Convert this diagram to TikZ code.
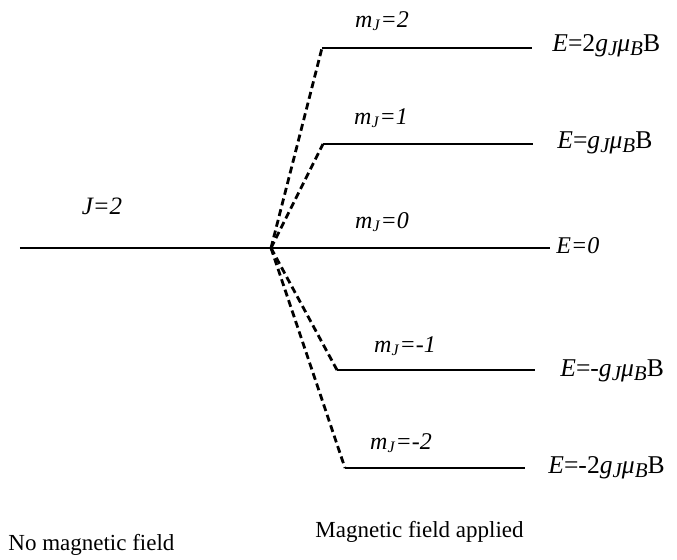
\documentclass[tikz,border=0pt]{standalone}
\usepackage{fontspec}
\setmainfont{Liberation Serif}
\newcommand{\sbs}[1]{\textsubscript{\itshape #1}}
\newcommand{\esb}[1]{\raisebox{-0.35ex}{\fontsize{10.5}{12}\selectfont\itshape #1}}
\begin{document}
\begin{tikzpicture}[x=0.5pt, y=-0.5pt,
  level/.style={line width=1.1pt},
  split/.style={line width=1.4pt, dash pattern=on 3.5pt off 2pt},
  lbl/.style={font=\fontsize{12}{14}\selectfont\itshape, inner sep=0pt},
  enr/.style={font=\fontsize{12.8}{14}\selectfont, inner sep=0pt, anchor=west},
  caption/.style={font=\fontsize{11.5}{13}\selectfont, inner sep=0pt, anchor=west}]
\useasboundingbox (0,0) rectangle (677,559);
% levels
\coordinate (j0) at (20,248);
\coordinate (j) at (271,248);
\coordinate (p2s) at (322,48);  \coordinate (p2e) at (532,48);
\coordinate (p1s) at (323,144); \coordinate (p1e) at (533,144);
\coordinate (z0e) at (550,248);
\coordinate (n1s) at (337,370); \coordinate (n1e) at (535,370);
\coordinate (n2s) at (345,468); \coordinate (n2e) at (525,468);
\draw[level] (j0) -- (j) -- (z0e);
\draw[level] (p2s) -- (p2e);
\draw[level] (p1s) -- (p1e);
\draw[level] (n1s) -- (n1e);
\draw[level] (n2s) -- (n2e);
\draw[split] (j) -- (p2s);
\draw[split] (j) -- (p1s);
\draw[split] (j) -- (n1s);
\draw[split] (j) -- (n2s);
% labels
\node[lbl, font=\fontsize{12.5}{14}\selectfont\itshape] (lj) at (102,206) {J=2};
\node[lbl] (lp2) at (382,21) {m\sbs{J}=2};
\node[lbl] (lp1) at (381,118) {m\sbs{J}=1};
\node[lbl] (lz0) at (382,222) {m\sbs{J}=0};
\node[lbl] (ln1) at (405,346) {m\sbs{J}=-1};
\node[lbl] (ln2) at (401,443) {m\sbs{J}=-2};
\node[enr] (ep2) at (552,46) {\textit{E}=2\textit{g}\esb{J}\textit{μ}\esb{B}B};
\node[enr] (ep1) at (557,143) {\textit{E}=\textit{g}\esb{J}\textit{μ}\esb{B}B};
\node[enr, font=\fontsize{12}{14}\selectfont] (ez0) at (556,246) {\textit{E=0}};
\node[enr] (en1) at (560,371) {\textit{E}=-\textit{g}\esb{J}\textit{μ}\esb{B}B};
\node[enr] (en2) at (548,468) {\textit{E}=-2\textit{g}\esb{J}\textit{μ}\esb{B}B};
\node[caption] (off) at (8,545) {No magnetic field};
\node[caption] (on) at (315,532) {Magnetic field applied};
\end{tikzpicture}
\end{document}
